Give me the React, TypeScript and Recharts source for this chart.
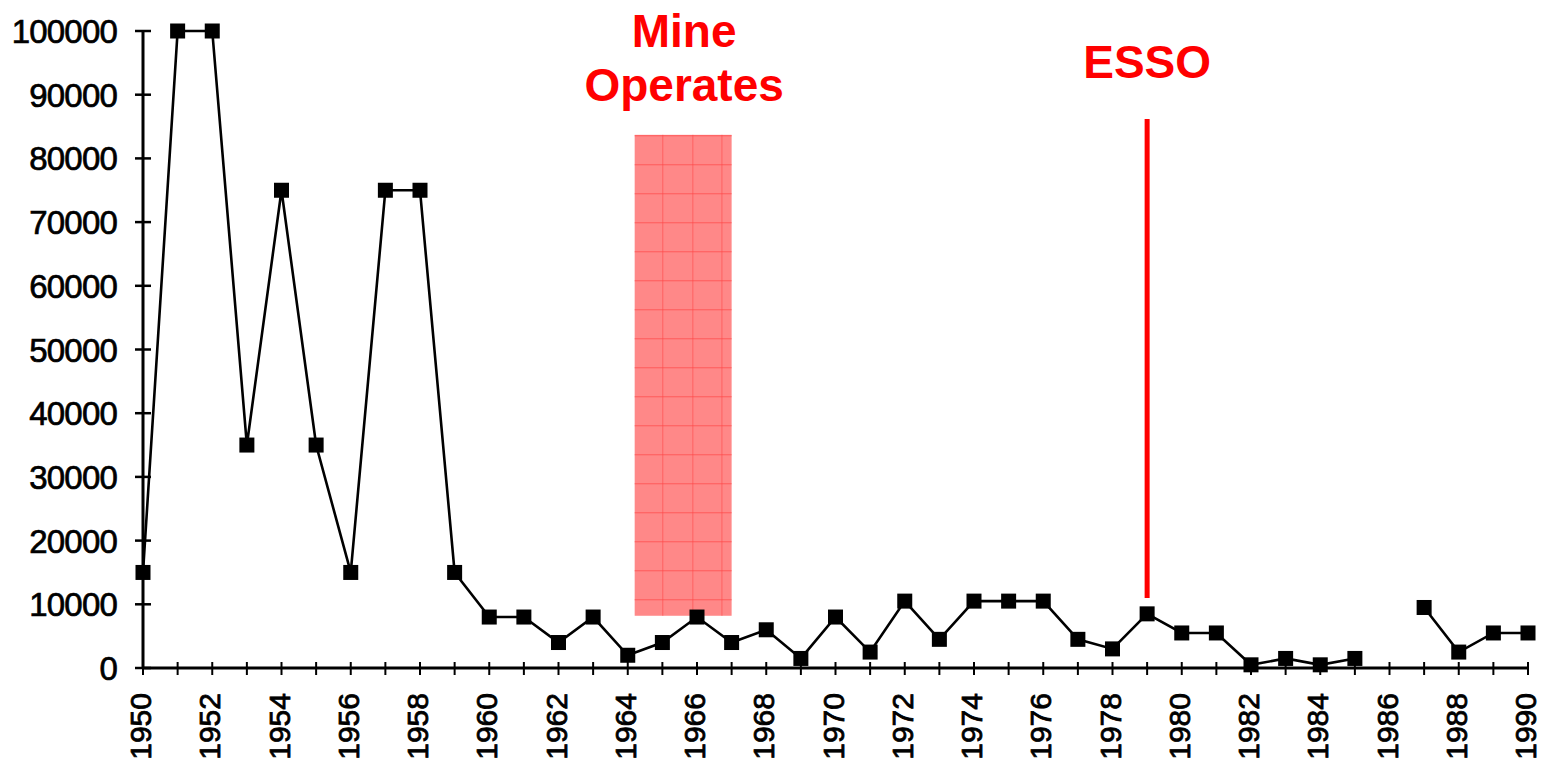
import React from 'react';
import { LineChart, Line, XAxis, YAxis, ReferenceArea, ReferenceLine } from 'recharts';

const years = [1950,1951,1952,1953,1954,1955,1956,1957,1958,1959,1960,1961,1962,1963,1964,1965,1966,1967,1968,1969,1970,1971,1972,1973,1974,1975,1976,1977,1978,1979,1980,1981,1982,1983,1984,1985,1986,1987,1988,1989,1990];
const values: (number | null)[] = [15000,100000,100000,35000,75000,35000,15000,75000,75000,15000,8000,8000,4000,8000,2000,4000,8000,4000,6000,1500,8000,2500,10500,4500,10500,10500,10500,4500,3000,8500,5500,5500,500,1500,500,1500,null,9500,2500,5500,5500];
const yTicks = [0,10000,20000,30000,40000,50000,60000,70000,80000,90000,100000];
const xTicks = years;

const mineLabel = ['Mine', 'Operates'];
const mineYears = [1964.2, 1967];
const mineRange = [8200, 83700];
const essoYear = 1979;
const essoRange = [11000, 86200];
const essoLabel = 'ESSO';

const data = years.map((y, i) => ({ year: y, value: values[i] }));

const numFont = '"Liberation Sans", Arial, sans-serif';
const narrowFont = '"Liberation Sans Narrow", "Arial Narrow", "Liberation Sans", Arial, sans-serif';

const YTick = (props: any) => {
  const { x, y, payload } = props;
  return (
    <g>
      <line x1={x - 8} x2={x + 8} y1={y} y2={y} stroke="#000" strokeWidth={2.5} />
      <text x={x - 26} y={y + 12} textAnchor="end" fontSize={33} letterSpacing={-0.8} fontFamily={numFont} fill="#000" stroke="#000" strokeWidth={0.7}>
        {payload.value}
      </text>
    </g>
  );
};

const XTick = (props: any) => {
  const { x, y, payload } = props;
  const v = payload.value;
  return (
    <g>
      <line x1={x} x2={x} y1={y - 6} y2={y + 7} stroke="#000" strokeWidth={2} />
      {v % 2 === 0 ? (
        <text
          x={x + 8}
          y={y + 25}
          transform={`rotate(-90, ${x + 8}, ${y + 25})`}
          textAnchor="end"
          fontSize={30}
          fontFamily={narrowFont}
          fill="#000"
          stroke="#000"
          strokeWidth={0.8}
        >
          {v}
        </text>
      ) : null}
    </g>
  );
};

const SquareDot = (props: any) => {
  const { cx, cy, value, index } = props;
  if (value == null || cx == null || cy == null) return <g key={`d${index}`} />;
  return <rect key={`d${index}`} x={cx - 7.5} y={cy - 7.5} width={15} height={15} fill="#000" />;
};

const MineBox = (props: any) => {
  const { x, y, width, height } = props;
  const hLines: number[] = [];
  for (let yy = y + height - 16; yy > y; yy -= 29) hLines.push(yy);
  const vLines = [x + width * 0.29, x + width * 0.6, x + width * 0.9];
  return (
    <g>
      <rect x={x} y={y} width={width} height={height} fill="#ff8888" />
      {hLines.map((yy, i) => (
        <line key={`h${i}`} x1={x} x2={x + width} y1={yy} y2={yy} stroke="#ff4848" strokeWidth={1} opacity={0.7} />
      ))}
      {vLines.map((xx, i) => (
        <line key={`v${i}`} x1={xx} x2={xx} y1={y} y2={y + height} stroke="#ff4848" strokeWidth={1} opacity={0.6} />
      ))}
    </g>
  );
};

const MineText = (props: any) => {
  const vb = props.viewBox || {};
  const cx = vb.x + vb.width / 2 + 1;
  const top = vb.y;
  return (
    <text textAnchor="middle" fontSize={46} fontWeight="bold" fontFamily={numFont} fill="#ff0000">
      <tspan x={cx} y={top - 88}>{mineLabel[0]}</tspan>
      <tspan x={cx} y={top - 34}>{mineLabel[1]}</tspan>
    </text>
  );
};

const EssoText = (props: any) => {
  const vb = props.viewBox || {};
  const cx = vb.x + (vb.width || 0) / 2;
  return (
    <text x={cx} y={vb.y - 41} textAnchor="middle" fontSize={46} fontWeight="bold" fontFamily={numFont} fill="#ff0000">
      {essoLabel}
    </text>
  );
};

export default function App() {
  return (
    <div style={{ position: 'absolute', left: 0, top: 0, background: '#fff' }}>
      <LineChart width={1543} height={767} data={data} margin={{ top: 31, right: 15, left: 0, bottom: 0 }}>
        <XAxis
          dataKey="year"
          type="number"
          domain={[1950, 1990]}
          ticks={xTicks}
          interval={0}
          height={99}
          tickSize={0}
          tickMargin={0}
          tickLine={false}
          axisLine={{ stroke: '#000', strokeWidth: 3 }}
          tick={<XTick />}
        />
        <YAxis
          type="number"
          domain={[0, 100000]}
          ticks={yTicks}
          interval={0}
          width={143}
          tickSize={0}
          tickMargin={0}
          tickLine={false}
          axisLine={{ stroke: '#000', strokeWidth: 3 }}
          tick={<YTick />}
        />
        <ReferenceArea
          x1={mineYears[0]}
          x2={mineYears[1]}
          y1={mineRange[0]}
          y2={mineRange[1]}
          shape={<MineBox />}
          label={<MineText />}
          ifOverflow="visible"
        />
        <ReferenceLine
          segment={[{ x: essoYear, y: essoRange[0] }, { x: essoYear, y: essoRange[1] }]}
          stroke="#ff0000"
          strokeWidth={5}
          label={<EssoText />}
          ifOverflow="visible"
        />
        <Line
          type="linear"
          dataKey="value"
          stroke="#000"
          strokeWidth={2.6}
          dot={<SquareDot />}
          activeDot={false}
          isAnimationActive={false}
        />
      </LineChart>
    </div>
  );
}
